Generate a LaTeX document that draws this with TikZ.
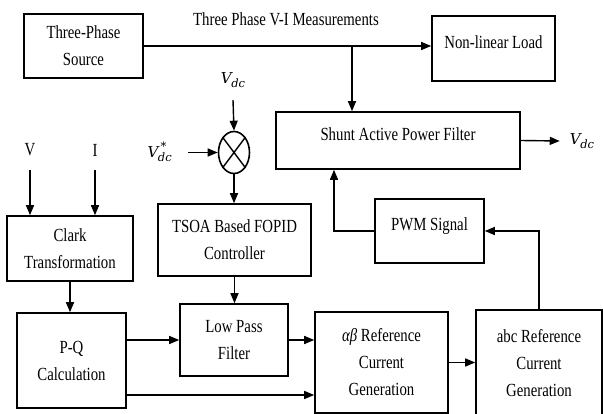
\documentclass[tikz,border=0pt]{standalone}
\usepackage{fontspec}
\setmainfont{Liberation Serif}[FakeStretch=0.8]
\newfontfamily\vfont{DejaVu Serif}
\usetikzlibrary{arrows.meta,shapes.geometric}
\newcommand{\vsym}[1]{{\vfont\itshape V\kern-0.5pt\raisebox{-4pt}{\fontsize{11.5}{12}\selectfont dc}\ifx#1s\kern-11pt\raisebox{7pt}{\fontsize{11.5}{12}\selectfont *}\kern6pt\fi}}
\begin{document}
\begin{tikzpicture}[x=1pt,y=-1pt,
  blk/.style={draw,line width=1.6pt,inner sep=0pt,align=center,font=\fontsize{18.5}{27}\selectfont},
  lbl/.style={inner sep=0pt,font=\fontsize{18.5}{27}\selectfont},
  mlbl/.style={inner sep=0pt,font=\fontsize{15}{18}\selectfont},
  conn/.style={line width=1.4pt,-{Triangle[length=10pt,width=8pt]}},
  plainline/.style={line width=1.4pt}]
\useasboundingbox (0,0) rectangle (603,414);
% blocks
\node[blk,minimum width=119pt,minimum height=64pt] (src) at (83.5,46) {Three-Phase\\Source};
\node[blk,minimum width=123pt,minimum height=65pt,text depth=13pt] (load) at (493.5,48.5) {Non-linear Load};
\node[blk,minimum width=244pt,minimum height=57pt,text depth=13pt] (shunt) at (398,140.5) {Shunt Active Power Filter};
\node[draw,ellipse,line width=1.6pt,inner sep=0pt,minimum width=31pt,minimum height=42pt] (sum) at (234,152.5) {};
\draw[line width=1.4pt] (sum.north east) -- (sum.south west) (sum.north west) -- (sum.south east);
\node[blk,minimum width=153pt,minimum height=72pt] (tsoa) at (234.5,240) {TSOA Based FOPID\\Controller};
\node[blk,minimum width=109pt,minimum height=64pt,text depth=14pt] (pwm) at (429.5,231) {PWM Signal};
\node[blk,minimum width=126pt,minimum height=65pt] (clark) at (70,248.5) {Clark\\Transformation};
\node[blk,minimum width=109pt,minimum height=95pt] (pq) at (71.5,360.5) {P-Q\\Calculation};
\node[blk,minimum width=108pt,minimum height=72pt] (lp) at (234,340) {Low Pass\\Filter};
\node[blk,minimum width=133pt,minimum height=101pt] (ab) at (381.5,362.5) {{\itshape αβ} Reference\\Current\\Generation};
\node[blk,minimum width=126pt,minimum height=106pt] (abc) at (539,363) {abc Reference\\Current\\Generation};
% labels
\node[lbl] (meas) at (286,19) {Three Phase V-I Measurements};
\node[mlbl] (vdc) at (233,80) {\vsym{n}};
\node[mlbl] (vstar) at (160,152) {\vsym{s}};
\node[mlbl] (vout) at (582,141) {\vsym{n}};
\node[lbl] (vl) at (30,150) {V};
\node[lbl] (il) at (95,150) {I};
% connectors
\draw[conn] (src.east) -- (src.east -| load.west);
\coordinate (j) at (352,46);
\draw[conn] (j) -- (j |- shunt.north);
\draw[conn] (shunt.east) -- ([xshift=-10pt]vout.west);
\coordinate (vdcs) at (233,100);
\draw[conn] (vdcs) -- (sum.north);
\coordinate (vsa) at (188,152.5);
\draw[conn] (vsa) -- (sum.west);
\draw[conn] (sum.south) -- (sum.south |- tsoa.north);
\coordinate (va) at (30,170);
\coordinate (ia) at (95,170);
\draw[conn] (va) -- (va |- clark.north);
\draw[conn] (ia) -- (ia |- clark.north);
\draw[conn] (clark.south) -- (clark.south |- pq.north);
\draw[conn] (tsoa.south) -- (tsoa.south |- lp.north);
\draw[conn] (lp.west -| pq.east) -- (lp.west);
\draw[conn] (lp.east) -- (lp.east -| ab.west);
\draw[conn] (pq.east |- 0,395) -- (ab.west |- 0,395);
\draw[conn] (ab.east) -- (ab.east -| abc.west);
\draw[conn] (abc.north) |- (pwm.east);
\draw[conn] (pwm.west) -| (334,0 |- shunt.south);
\end{tikzpicture}
\end{document}
